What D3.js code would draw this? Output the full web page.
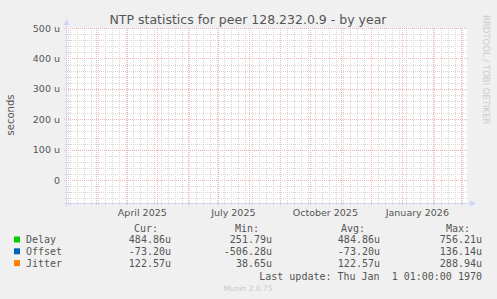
<!DOCTYPE html>
<html>
<head>
<meta charset="utf-8">
<script src="https://cdn.jsdelivr.net/npm/d3@7/dist/d3.min.js"></script>
<style>
  html, body { margin: 0; padding: 0; background: #f0f0f0; }
  svg { display: block; }
  text { font-family: "DejaVu Sans", sans-serif; fill: #555; }
  .mono { font-family: "DejaVu Sans Mono", monospace; white-space: pre; }
</style>
</head>
<body>
<div id="chart"></div>
<script>
// chart data
const title = 'NTP statistics for peer 128.232.0.9 - by year'
const yLabel = 'seconds'
const yTicks = [0, 100, 200, 300, 400, 500]          // micro seconds
const monthLabels = ['April 2025', 'July 2025', 'October 2025', 'January 2026']
const seriesNames = ['Delay', 'Offset', 'Jitter']
const seriesColors = ['#00cc00', '#0066b3', '#ff8000']
const curValues = ['484.86u', '-73.20u', '122.57u']
const minValues = ['251.79u', '-506.28u', '38.65u']
const avgValues = ['484.86u', '-73.20u', '122.57u']
const maxValues = ['756.21u', '136.14u', '288.94u']
const lastUpdate = 'Last update: Thu Jan  1 01:00:00 1970'

var W = 497, H = 299
// plot area (window.top is reserved, so other names here)
var pLeft = 67, pRight = 467, pTop = 28, pBottom = 203

var svg = d3.select('#chart').append('svg')
    .attr('width', W).attr('height', H)

svg.append('rect').attr('width', W).attr('height', H).attr('fill', '#f0f0f0')
svg.append('rect')
    .attr('x', pLeft).attr('y', pTop)
    .attr('width', pRight - pLeft).attr('height', pBottom - pTop)
    .attr('fill', '#ffffff')

// 400 days, one pixel per day
var start = new Date(2025, 0, 30, 16)
var end = d3.timeDay.offset(start, 400)
var x = d3.scaleTime().domain([start, end]).range([pLeft, pRight])
var y = d3.scaleLinear().domain([-75, 500]).range([pBottom, pTop])

var grid = svg.append('g')
// minor grid
var weeks = d3.timeMonday.range(start, end)
grid.selectAll('.wk').data(weeks).enter().append('line')
    .attr('x1', d => Math.round(x(d)) + 0.5).attr('x2', d => Math.round(x(d)) + 0.5)
    .attr('y1', pTop).attr('y2', pBottom + 2)
    .attr('stroke', '#d6d6d6').attr('stroke-dasharray', '1,1')
var minorY = d3.range(-60, 501, 20).filter(v => v % 100 != 0)
grid.selectAll('.my').data(minorY).enter().append('line')
    .attr('x1', pLeft - 2).attr('x2', pRight)
    .attr('y1', d => Math.round(y(d)) + 0.5).attr('y2', d => Math.round(y(d)) + 0.5)
    .attr('stroke', '#d6d6d6').attr('stroke-dasharray', '1,1')

// major grid
var months = d3.timeMonth.range(start, end)
grid.selectAll('.mo').data(months).enter().append('line')
    .attr('x1', d => Math.round(x(d)) + 0.5).attr('x2', d => Math.round(x(d)) + 0.5)
    .attr('y1', pTop).attr('y2', pBottom + 3)
    .attr('stroke', '#f0b4b4').attr('stroke-dasharray', '1,1')
grid.selectAll('.my2').data(yTicks).enter().append('line')
    .attr('x1', pLeft - 3).attr('x2', pRight)
    .attr('y1', d => Math.round(y(d)) + 0.5).attr('y2', d => Math.round(y(d)) + 0.5)
    .attr('stroke', '#f0b4b4').attr('stroke-dasharray', '1,1')

// axes
var axisCol = '#cfd6f8'
svg.append('line').attr('x1', pLeft - 0.5).attr('x2', pLeft - 0.5)
    .attr('y1', pTop - 4).attr('y2', pBottom + 4).attr('stroke', axisCol)
svg.append('line').attr('x1', pLeft - 4).attr('x2', pRight + 4)
    .attr('y1', pBottom + 0.5).attr('y2', pBottom + 0.5).attr('stroke', axisCol)
svg.append('path')
    .attr('d', `M${pLeft - 3.5},${pTop - 3} L${pLeft - 0.5},${pTop - 9} L${pLeft + 2.5},${pTop - 3} Z`)
    .attr('fill', axisCol)
svg.append('path')
    .attr('d', `M${pRight + 3},${pBottom - 2.5} L${pRight + 9},${pBottom + 0.5} L${pRight + 3},${pBottom + 3.5} Z`)
    .attr('fill', axisCol)

// y labels
svg.selectAll('.yl').data(yTicks).enter().append('text')
    .attr('x', 60).attr('y', d => y(d) + 3.5)
    .attr('text-anchor', 'end').style('font-size', '9.5px')
    .text(d => d == 0 ? '0' : d + ' u')

// x labels, centred half a month after the tick
var labelDates = months.filter(d => d.getMonth() % 3 == 0)
svg.selectAll('.xl').data(labelDates).enter().append('text')
    .attr('x', (d, i) => x(d3.timeDay.offset(d, 15)))
    .attr('y', 215.5)
    .attr('text-anchor', 'middle').style('font-size', '9.5px')
    .text((d, i) => monthLabels[i])

// title
svg.append('text').attr('x', 248).attr('y', 23.5)
    .attr('text-anchor', 'middle').style('font-size', '12.5px')
    .text(title)

svg.append('text')
    .attr('transform', 'translate(14,115) rotate(-90)')
    .attr('text-anchor', 'middle').style('font-size', '10px')
    .text(yLabel)

svg.append('text')
    .attr('transform', 'translate(482.5,15) rotate(90)')
    .style('font-size', '8.5px').style('fill', '#cccccc')
    .text('RRDTOOL / TOBI OETIKER')

// legend
var legend = svg.append('g')
var headers = [['Cur:', 158], ['Min:', 259], ['Avg:', 365], ['Max:', 470]]
legend.selectAll('.hd').data(headers).enter().append('text')
    .attr('class', 'mono').attr('x', d => d[1]).attr('y', 231.5)
    .attr('text-anchor', 'end').style('font-size', '10px')
    .text(d => d[0])

var cols = [[curValues, 171], [minValues, 272], [avgValues, 380], [maxValues, 482]]
seriesNames.forEach(function (name, i) {
    var yy = 243 + i * 11.8
    legend.append('rect').attr('x', 14).attr('y', yy - 6.5)
        .attr('width', 6).attr('height', 6).attr('fill', seriesColors[i])
    legend.append('text').attr('class', 'mono').attr('x', 26).attr('y', yy)
        .style('font-size', '10px').text(name)
    cols.forEach(function (c) {
        legend.append('text').attr('class', 'mono').attr('x', c[1]).attr('y', yy)
            .attr('text-anchor', 'end').style('font-size', '10px').text(c[0][i])
    })
})

legend.append('text').attr('class', 'mono').attr('x', 482).attr('y', 279.5)
    .attr('text-anchor', 'end').style('font-size', '10px')
    .text(lastUpdate)

svg.append('text').attr('x', 248).attr('y', 290.5)
    .attr('text-anchor', 'middle').style('font-size', '7.5px').style('fill', '#c8c8c8')
    .text('Munin 2.0.75')
</script>
</body>
</html>
